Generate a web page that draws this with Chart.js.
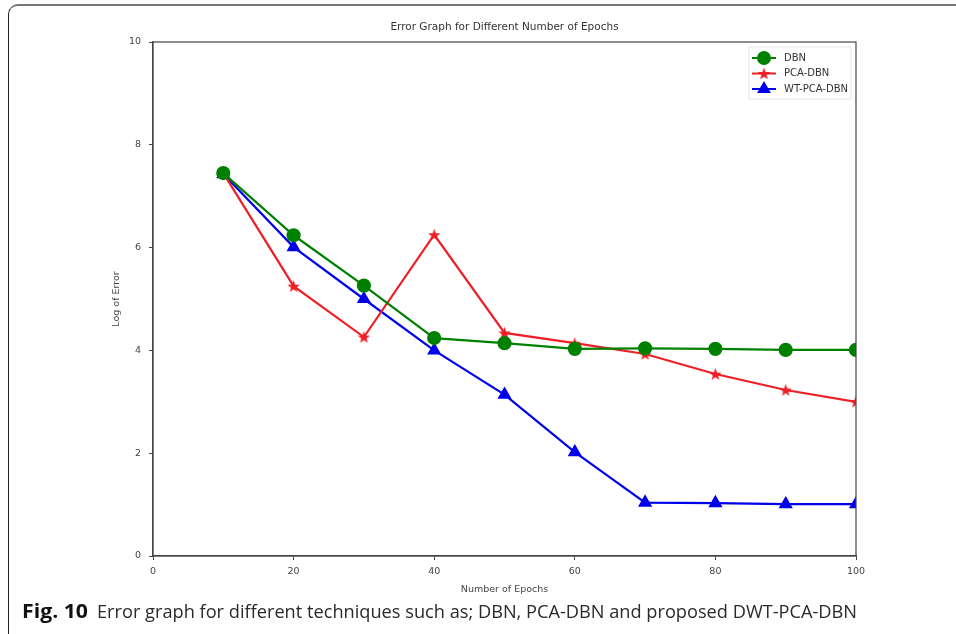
<!DOCTYPE html>
<html>
<head>
<meta charset="utf-8">
<script src="https://cdn.jsdelivr.net/npm/chart.js@4"></script>
<style>
  html, body { margin: 0; padding: 0; background: #fff; }
  body { width: 956px; height: 634px; position: relative; overflow: hidden; }
  #frame {
    position: absolute; left: 8px; top: 4px; width: 1400px; height: 640px;
    border-top: 2px solid #777; border-left: 1.5px solid #222;
    border-top-left-radius: 10px;
  }
  #myChart { position: absolute; left: 0; top: 0; }
  .cap {
    position: absolute; top: 598px; white-space: nowrap; transform-origin: 0 0;
    font-family: "Open Sans", sans-serif; font-size: 19px; color: #2a2a2a; line-height: 26px;
  }
  #figNo { left: 22px; font-weight: bold; color: #111; }
  #capText { left: 97px; }
</style>
</head>
<body>
<div id="frame"></div>
<canvas id="myChart" width="956" height="600"></canvas>
<span class="cap" id="figNo">Fig. 10</span>
<span class="cap" id="capText">Error graph for different techniques such as; DBN, PCA-DBN and proposed DWT-PCA-DBN</span>
<script>
const epochs = [10, 20, 30, 40, 50, 60, 70, 80, 90, 100];
const dbn = [7.45, 6.24, 5.26, 4.24, 4.14, 4.03, 4.04, 4.03, 4.01, 4.01];
const pcaDbn = [7.45, 5.25, 4.26, 6.25, 4.34, 4.14, 3.93, 3.54, 3.23, 3.0];
const wtPcaDbn = [7.43, 6.01, 5.0, 4.0, 3.14, 2.02, 1.04, 1.03, 1.01, 1.01];
const seriesNames = ["DBN", "PCA-DBN", "WT-PCA-DBN"];
const xTicks = [0, 20, 40, 60, 80, 100];
const yTicks = [0, 2, 4, 6, 8, 10];

const green = "rgb(0,128,0)";
const red = "rgb(238,32,38)";
const blue = "rgb(0,0,235)";

// squeeze caption pieces to the widths seen in the figure
function fitWidth(id, w) {
    const el = document.getElementById(id);
    const k = w / el.getBoundingClientRect().width;
    el.style.transform = "scaleX(" + k + ")";
}
fitWidth("figNo", 66);
fitWidth("capText", 760);

function starImage(size, color) {
    const c = document.createElement("canvas");
    c.width = size;
    c.height = size;
    const g = c.getContext("2d");
    const cx = size / 2, cy = size / 2 + 0.6;
    const ro = size / 2, ri = ro * 0.42;
    g.beginPath();
    for (let i = 0; i < 10; i++) {
        const r = i % 2 ? ri : ro;
        const a = -Math.PI / 2 + i * Math.PI / 5;
        const px = cx + r * Math.cos(a), py = cy + r * Math.sin(a);
        if (i == 0) g.moveTo(px, py);
        else g.lineTo(px, py);
    }
    g.closePath();
    g.fillStyle = color;
    g.fill();
    return c;
}
const star = starImage(13, red);

const toPts = arr => arr.map((v, i) => ({ x: epochs[i], y: v }));
const font = "DejaVu Sans";

// frame box + title + legend drawn on the chart
const extras = {
    id: "extras",
    afterDraw(chart) {
        const ctx = chart.ctx;
        const a = chart.chartArea;
        ctx.save();
        ctx.strokeStyle = "#444";
        ctx.lineWidth = 1.2;
        ctx.strokeRect(a.left, a.top, a.right - a.left, a.bottom - a.top);
        ctx.fillStyle = "#333";
        ctx.font = "10.5px '" + font + "'";
        ctx.textAlign = "center";
        ctx.textBaseline = "middle";
        ctx.fillText("Error Graph for Different Number of Epochs", (a.left + a.right) / 2, 27);

        // legend
        const lx = a.right - 107, ly = a.top + 5;
        ctx.strokeStyle = "#e4e4e4";
        ctx.lineWidth = 1;
        ctx.strokeRect(lx, ly, 102, 52);
        chart.data.datasets.forEach((ds, i) => {
            const y = ly + 11 + i * 15.5;
            ctx.strokeStyle = ds.borderColor;
            ctx.lineWidth = 2;
            ctx.beginPath();
            ctx.moveTo(lx + 3, y);
            ctx.lineTo(lx + 27, y);
            ctx.stroke();
            ctx.fillStyle = ds.pointBackgroundColor;
            ctx.strokeStyle = ds.pointBorderColor;
            Chart.helpers.drawPoint(ctx, {
                pointStyle: ds.pointStyle, radius: ds.pointRadius, rotation: 0, borderWidth: 1
            }, lx + 15, y);
            ctx.fillStyle = "#333";
            ctx.font = "10px '" + font + "'";
            ctx.textAlign = "left";
            ctx.fillText(seriesNames[i], lx + 35, y);
        });
        ctx.restore();
    }
};

const ctx = document.getElementById("myChart").getContext("2d");
const chart = new Chart(ctx, {
    type: "line",
    data: {
        datasets: [
            {
                label: seriesNames[0], data: toPts(dbn),
                borderColor: green, backgroundColor: green,
                pointBackgroundColor: green, pointBorderColor: green,
                pointStyle: "circle", pointRadius: 6, borderWidth: 2.2
            },
            {
                label: seriesNames[1], data: toPts(pcaDbn),
                borderColor: red, backgroundColor: red,
                pointBackgroundColor: red, pointBorderColor: red,
                pointStyle: star, pointRadius: 6, borderWidth: 2.2
            },
            {
                label: seriesNames[2], data: toPts(wtPcaDbn),
                borderColor: blue, backgroundColor: blue,
                pointBackgroundColor: blue, pointBorderColor: blue,
                pointStyle: "triangle", pointRadius: 6, borderWidth: 2.2
            }
        ]
    },
    options: {
        responsive: false,
        animation: false,
        layout: { padding: { left: 111, right: 100, top: 42, bottom: 0 } },
        plugins: {
            legend: { display: false },
            tooltip: { enabled: false }
        },
        scales: {
            x: {
                type: "linear", min: 0, max: 100,
                afterBuildTicks: s => { s.ticks = xTicks.map(v => ({ value: v })); },
                afterFit: s => { s.height = 44; },
                grid: { drawOnChartArea: false, drawTicks: true, tickLength: 4, tickColor: "#444" },
                border: { display: true, color: "#444", width: 1.2 },
                ticks: { padding: 6, color: "#444", font: { family: font, size: 9.5 }, maxRotation: 0 },
                title: { display: true, text: "Number of Epochs", color: "#444",
                         font: { family: font, size: 9.5 }, padding: { top: 0, bottom: 5 } }
            },
            y: {
                type: "linear", min: 0, max: 10,
                afterBuildTicks: s => { s.ticks = yTicks.map(v => ({ value: v })); },
                afterFit: s => { s.width = 42; },
                grid: { drawOnChartArea: false, drawTicks: true, tickLength: 4, tickColor: "#444" },
                border: { display: true, color: "#444", width: 1.2 },
                ticks: { padding: 8, color: "#444", font: { family: font, size: 9.5 } },
                title: { display: true, text: "Log of Error", color: "#444",
                         font: { family: font, size: 9.5 }, padding: 0 }
            }
        }
    },
    plugins: [extras]
});
</script>
</body>
</html>
